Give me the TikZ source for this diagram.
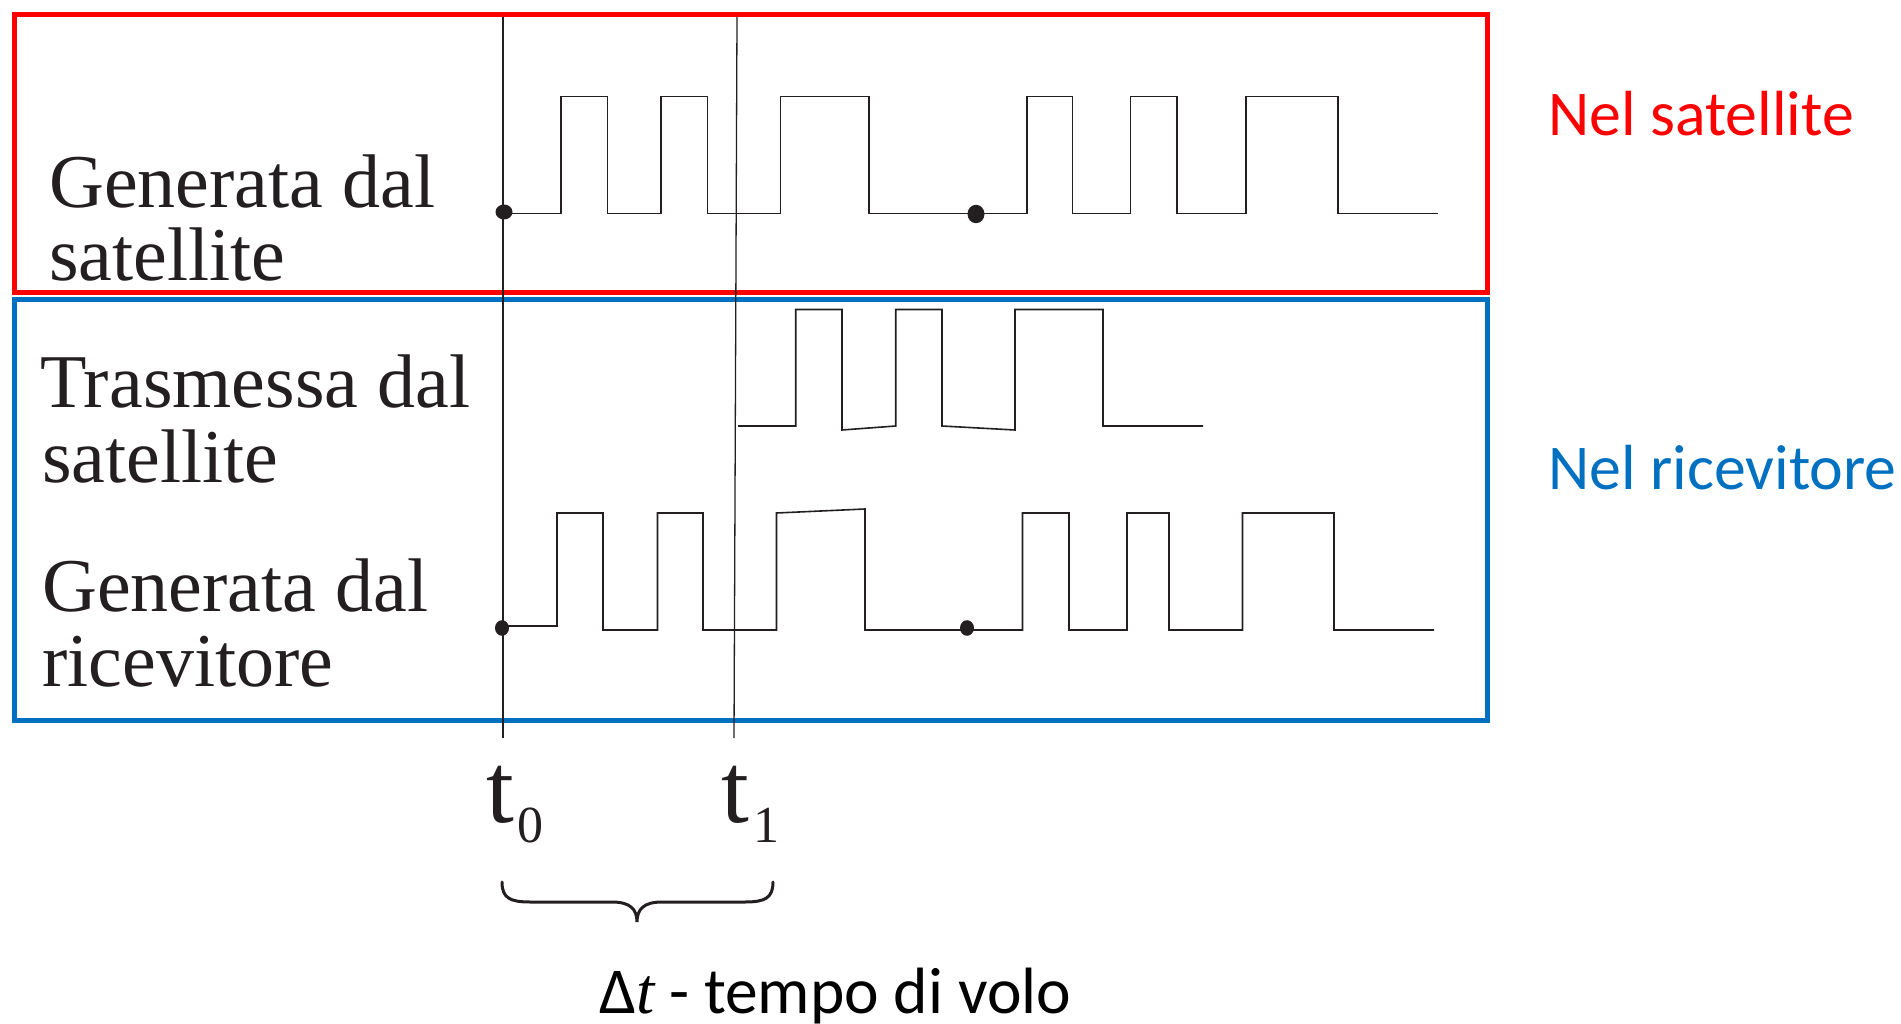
\documentclass[tikz,border=0pt]{standalone}
\usepackage{fontspec}
\setmainfont{Liberation Serif}
\newfontfamily\calib{Carlito}
\definecolor{ink}{RGB}{35,31,32}
\definecolor{boxred}{RGB}{255,0,0}
\definecolor{boxblue}{RGB}{0,112,192}
\begin{document}
\begin{tikzpicture}[x=1pt,y=-1pt,
  frame/.style={line width=5pt},
  sig/.style={draw=ink, line width=1.6pt, line join=miter},
  guide/.style={draw=ink, line width=1.3pt},
  lbl/.style={anchor=base west, inner sep=0pt, text=ink, font=\fontsize{76}{76}\selectfont},
  side/.style={anchor=base west, inner sep=0pt, font=\calib\fontsize{63.8}{64}\selectfont},
  tlbl/.style={anchor=base west, inner sep=0pt, text=ink, font=\fontsize{100}{100}\selectfont},
  sublbl/.style={anchor=base west, inner sep=0pt, text=ink, font=\fontsize{52}{52}\selectfont},
  dot/.style={fill=ink}]
\useasboundingbox (0,0) rectangle (1901,1024);

% frames
\draw[frame, boxred] (14.5,14.5) rectangle (1487.5,292.5);
\draw[frame, boxblue] (14.5,300) rectangle (1487.5,720.5);

% time guides
\coordinate (t0top) at (503,17);
\coordinate (t0bot) at (503,738);
\coordinate (t1top) at (737,17);
\coordinate (t1bot) at (734,738);
\draw[guide] (t0top) -- (t0bot);
\draw[guide] (t1top) -- (t1bot);

% signal generated by satellite
\draw[sig] (503,213.5) -- (561,213.5) -- (561,96.5) -- (607.5,96.5) -- (607.5,213.5)
  -- (661,213.5) -- (661,96.5) -- (707.5,96.5) -- (707.5,213.5)
  -- (780.6,213.5) -- (780.6,96.5) -- (868.7,96.5) -- (868.7,213.5)
  -- (1027,213.5) -- (1027,96.5) -- (1072.5,96.5) -- (1072.5,213.5)
  -- (1130.6,213.5) -- (1130.6,96.5) -- (1177,96.5) -- (1177,213.5)
  -- (1246,213.5) -- (1246,96.5) -- (1338,96.5) -- (1338,213.5) -- (1438,213.5);

% signal transmitted by satellite
\draw[sig] (738,426) -- (795.7,426) -- (795.7,309.5) -- (842,309.5) -- (842,430)
  -- (895.7,426) -- (895.7,309.5) -- (942,309.5) -- (942,426)
  -- (1015,430) -- (1015,309.5) -- (1103,309.5) -- (1103,426) -- (1203,426);

% signal generated by receiver
\draw[sig] (503,626) -- (557,626) -- (557,513) -- (603,513) -- (603,630)
  -- (657.5,630) -- (657.5,513) -- (703,513) -- (703,630)
  -- (776.5,630) -- (776.5,513) -- (865,509) -- (865,630)
  -- (1022.5,630) -- (1022.5,513) -- (1069,513) -- (1069,630)
  -- (1127,630) -- (1127,513) -- (1169,513) -- (1169,630)
  -- (1242.5,630) -- (1242.5,513) -- (1334,513) -- (1334,630) -- (1434,630);

% dots
\fill[dot] (504,212) ellipse [x radius=8.5, y radius=7.5];
\fill[dot] (976,214) ellipse [x radius=8.5, y radius=9.2];
\fill[dot] (502,628) ellipse [x radius=7, y radius=7.8];
\fill[dot] (967,628) ellipse [x radius=7, y radius=7.8];

% left labels
\node[lbl] (g1a) at (49,208) {Generata dal};
\node[lbl] (g1b) at (49,281) {satellite};
\node[lbl] (tra) at (40,407) {Trasmessa dal};
\node[lbl] (trb) at (42,482) {satellite};
\node[lbl] (g2a) at (42,611) {Generata dal};
\node[lbl] (g2b) at (42,686) {ricevitore};

% right labels
\node[side, text=boxred] (nsat) at (1548,136) {Nel satellite};
\node[side, text=boxblue] (nric) at (1548,489) {Nel ricevitore};

% time labels
\node[tlbl] (lt0) at (486,822) {t};
\node[sublbl] (lt0s) at (517.5,842) {0};
\node[tlbl] (lt1) at (721,822) {t};
\node[sublbl] (lt1s) at (753,842) {1};

% brace
\draw[ink, line width=3pt, line cap=round]
  (502,882) .. controls (502,898) and (510,902) .. (530,902) -- (612,902)
  .. controls (630,902) and (637,909) .. (637,922)
  .. controls (637,909) and (644,902) .. (662,902) -- (745,902)
  .. controls (765,902) and (773,898) .. (773,882);

\node[anchor=base west, inner sep=0pt, text=black, font=\calib\fontsize{65.5}{66}\selectfont] (dt) at (599,1013) {Δ{\fontspec{Liberation Serif}\itshape t} - tempo di volo};
\end{tikzpicture}
\end{document}
